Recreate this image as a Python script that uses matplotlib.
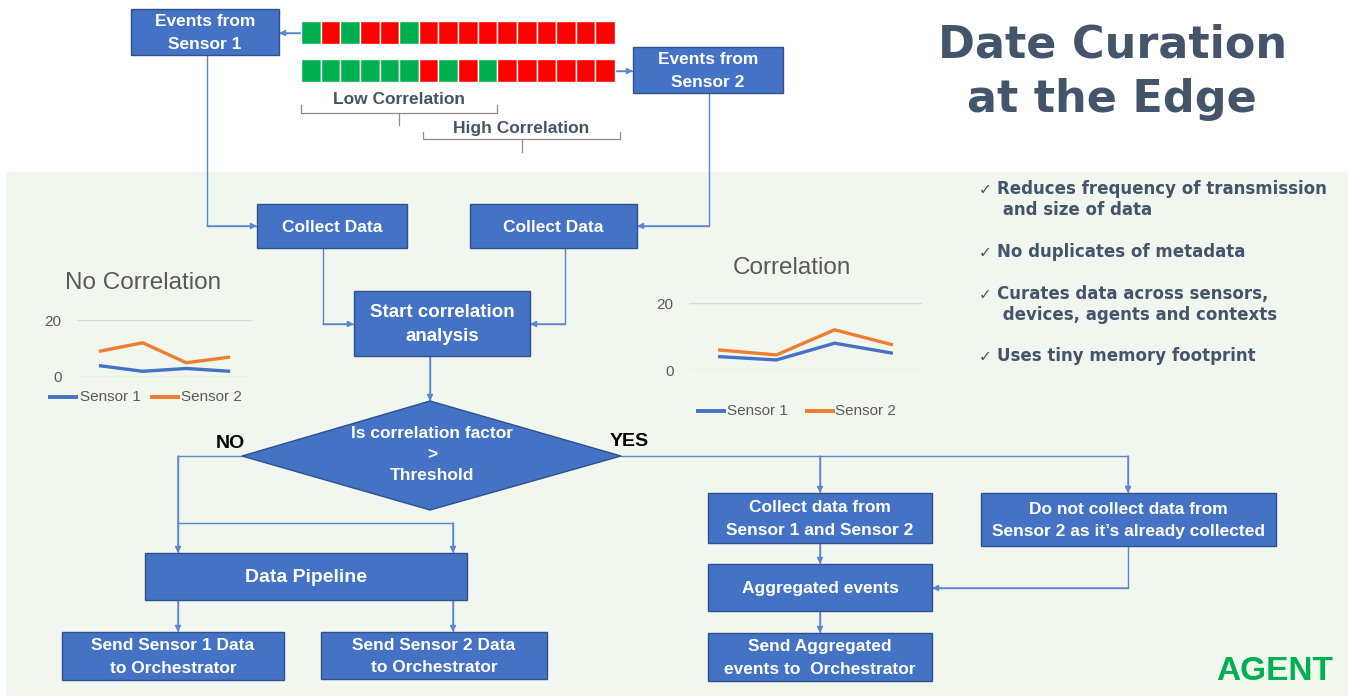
import matplotlib.pyplot as plt
from matplotlib.patches import Rectangle, Polygon

# data
categories = ['A', 'B', 'C', 'D']
nocorr_s1 = [4, 2, 3, 2]
nocorr_s2 = [9, 12, 5, 7]
corr_s1 = [4, 3, 8, 5]
corr_s2 = [6, 4.5, 12, 7.5]
y_ticks = [0, 20]
series_names = ['Sensor 1', 'Sensor 2']
events_s1 = list("GRGRRGRRRRRRRRRR")
events_s2 = list("GGGGGGRGRGRRRRRR")
bullets = [["Reduces frequency of transmission", " and size of data"],
           ["No duplicates of metadata"],
           ["Curates data across sensors,", " devices, agents and contexts"],
           ["Uses tiny memory footprint"]]

# colours
BOX = '#4472C4'
BOX_EDGE = '#2F528F'
LINE = '#5B87CF'
SLATE = '#44546A'
BG = '#F1F6EE'
BLUE = '#4472C4'
ORANGE = '#ED7D31'
GREY = '#595959'
SANS = ['Liberation Sans', 'DejaVu Sans']
WIDE = ['DejaVu Sans']

fig = plt.figure(figsize=(13.48, 6.96), dpi=100)
ax = fig.add_axes([0, 0, 1, 1])
ax.set_xlim(0, 1348)
ax.set_ylim(696, 0)
ax.axis('off')

# green agent area
ax.add_patch(Rectangle((7, 172), 1341, 524, facecolor=BG, edgecolor='none', zorder=0))


def box(x0, y0, x1, y1, text, size=12.5):
    ax.add_patch(Rectangle((x0, y0), x1 - x0, y1 - y0, facecolor=BOX,
                           edgecolor=BOX_EDGE, lw=1, zorder=3))
    ax.text((x0 + x1) / 2, (y0 + y1) / 2 + 1, text, color='white', ha='center', va='center',
            fontsize=size, fontweight='bold', family=SANS, linespacing=1.6, zorder=4)


def connector(pts):
    xs = [p[0] for p in pts]
    ys = [p[1] for p in pts]
    ax.plot(xs, ys, color=LINE, lw=1, zorder=2)
    ax.annotate('', xy=pts[-1], xytext=pts[-2],
                arrowprops=dict(arrowstyle='-|>', color=LINE, lw=1,
                                mutation_scale=9, shrinkA=0, shrinkB=0), zorder=2)


# event strips
cw = (615 - 301) / len(events_s1)
for row_y, row in [(21, events_s1), (59, events_s2)]:
    for i, c in enumerate(row):
        ax.add_patch(Rectangle((301 + i * cw, row_y), cw, 23,
                               facecolor='#00B050' if c == 'G' else '#FF0000',
                               edgecolor='white', lw=1, zorder=3))

box(131, 9, 279, 55, "Events from\nSensor 1")
box(633, 47, 783, 93, "Events from\nSensor 2")
connector([(301, 33), (279, 33)])
connector([(615, 71), (633, 71)])

# brackets
for (xa, xb, yb, ytop, xc, ybot, label, ly) in [(301, 497, 113, 105, 399, 125, "Low Correlation", 100),
                                               (423, 620, 139, 132, 522, 152, "High Correlation", 129)]:
    ax.plot([xa, xa, xb, xb], [ytop, yb, yb, ytop], color='#8C8C8C', lw=0.9)
    ax.plot([xc, xc], [yb, ybot], color='#8C8C8C', lw=0.9)
    ax.text((xa + xb) / 2, ly, label, color=SLATE, ha='center', va='center',
            fontsize=12.5, fontweight='bold', family=SANS)

# top flow
box(257, 204, 407, 248, "Collect Data")
box(470, 204, 637, 248, "Collect Data")
connector([(207, 55), (207, 226), (257, 226)])
connector([(709, 93), (709, 226), (637, 226)])
box(354, 291, 530, 356, "Start correlation\nanalysis", 13.5)
connector([(323, 248), (323, 324), (354, 324)])
connector([(565, 248), (565, 324), (530, 324)])
connector([(430, 356), (430, 401)])

# decision
ax.add_patch(Polygon([(242, 456), (430, 401), (621, 456), (430, 510)], closed=True,
                     facecolor=BOX, edgecolor=BOX_EDGE, lw=1, zorder=3))
ax.text(432, 455, "Is correlation factor\n>\nThreshold", color='white', ha='center', va='center',
        fontsize=12.5, fontweight='bold', family=SANS, linespacing=1.5, zorder=4)
ax.text(230, 443, "NO", ha='center', va='center', fontsize=14, fontweight='bold', family=SANS)
ax.text(629, 442, "YES", ha='center', va='center', fontsize=14, fontweight='bold', family=SANS)

# NO branch
ax.plot([242, 178], [456, 456], color=LINE, lw=1, zorder=2)
connector([(178, 456), (178, 553)])
connector([(178, 523), (453, 523), (453, 553)])
box(145, 553, 467, 600, "Data Pipeline", 14)
connector([(178, 600), (178, 632)])
connector([(453, 600), (453, 632)])
box(62, 632, 284, 680, "Send Sensor 1 Data\nto Orchestrator")
box(321, 632, 547, 679, "Send Sensor 2 Data\nto Orchestrator")

# YES branch
ax.plot([621, 1128], [456, 456], color=LINE, lw=1, zorder=2)
connector([(820, 456), (820, 493)])
connector([(1128, 456), (1128, 493)])
box(708, 493, 932, 543, "Collect data from\nSensor 1 and Sensor 2")
box(981, 493, 1276, 546, "Do not collect data from\nSensor 2 as it\u2019s already collected")
box(708, 564, 932, 611, "Aggregated events")
connector([(820, 543), (820, 564)])
connector([(1128, 546), (1128, 588), (932, 588)])
box(708, 633, 932, 681, "Send Aggregated\nevents to  Orchestrator")
connector([(820, 611), (820, 633)])

ax.text(1275, 672, "AGENT", color='#00B050', ha='center', va='center',
        fontsize=24, fontweight='bold', family=SANS)

# title and bullets
ax.text(1113, 57, "Date Curation", color=SLATE, ha='center', va='baseline',
        fontsize=32, fontweight='bold', family=WIDE)
ax.text(1112, 112, "at the Edge", color=SLATE, ha='center', va='baseline',
        fontsize=32, fontweight='bold', family=WIDE)
for lines, yy in zip(bullets, [194, 257, 299, 361]):
    ax.text(979, yy, "\u2713", color=SLATE, ha='left', va='baseline', fontsize=11, family=WIDE)
    for k, line in enumerate(lines):
        ax.text(997, yy + 21 * k, line, color=SLATE, ha='left', va='baseline',
                fontsize=12, fontweight='bold', family=WIDE)

# small charts (pixel rects: left, top, right, bottom)
W, H = 1348, 696


def small_chart(rect, s1, s2, title, title_xy, legend_y, legend_x):
    l, t, r, b = rect
    cax = fig.add_axes([l / W, 1 - b / H, (r - l) / W, (b - t) / H])
    cax.patch.set_alpha(0)
    xs = range(len(categories))
    cax.plot(xs, s1, color=BLUE, lw=2.4, solid_capstyle='butt')
    cax.plot(xs, s2, color=ORANGE, lw=2.4, solid_capstyle='butt')
    cax.set_xlim(-0.5, len(categories) - 0.5)
    cax.set_ylim(y_ticks[0], y_ticks[-1])
    cax.set_yticks(y_ticks)
    cax.set_xticks([])
    cax.tick_params(axis='y', length=0, labelsize=11, labelcolor=GREY, pad=11)
    cax.grid(axis='y', color='#D9D9D9', lw=1)
    cax.set_axisbelow(True)
    for sp in cax.spines.values():
        sp.set_visible(False)
    for yl in cax.get_yticklabels():
        yl.set_family(SANS)
    ax.text(title_xy[0], title_xy[1], title, color=GREY, ha='center', va='center',
            fontsize=17.5, family=SANS)
    for name, col, (x0, x1) in zip(series_names, [BLUE, ORANGE], legend_x):
        ax.plot([x0, x0 + 30], [legend_y, legend_y], color=col, lw=2.8, solid_capstyle='butt')
        ax.text(x1, legend_y, name, color=GREY, ha='left', va='center', fontsize=11, family=SANS)


small_chart((77, 320, 252, 377), nocorr_s1, nocorr_s2, "No Correlation", (143, 283), 397,
            [(48, 80), (150, 181)])
small_chart((689, 303, 922, 370), corr_s1, corr_s2, "Correlation", (792, 268), 411,
            [(696, 727), (805, 835)])

fig.savefig('out.png', dpi=100, facecolor='white')
